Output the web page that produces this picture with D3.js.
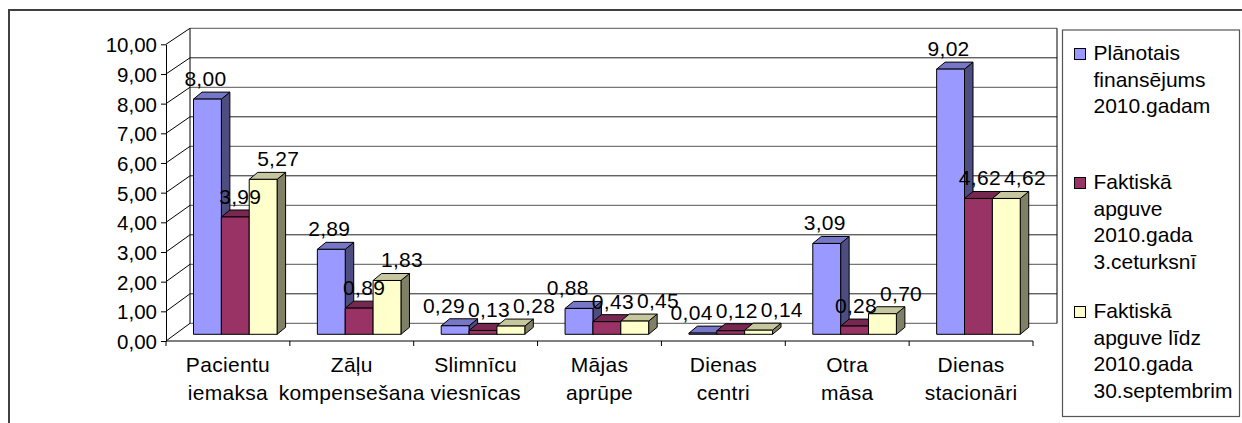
<!DOCTYPE html>
<html>
<head>
<meta charset="utf-8">
<script src="https://cdn.jsdelivr.net/npm/d3@7"></script>
<style>
  body { margin: 0; background: #fff; }
  svg text { font-family: "Liberation Sans", Arial, sans-serif; font-size: 21px; letter-spacing: 0.3px; fill: #000; }
  svg .tick text { font-size: 20.5px; letter-spacing: 0; }
  svg .legend text { letter-spacing: 0; }
</style>
</head>
<body>
<div id="chart"></div>
<script>
// 3D column chart, Excel style

var w = 1242, h = 423;

var categories = ['Pacientu iemaksa', 'Zāļu kompensešana', 'Slimnīcu viesnīcas', 'Mājas aprūpe',
                  'Dienas centri', 'Otra māsa', 'Dienas stacionāri'];
var planned = [8.00, 2.89, 0.29, 0.88, 0.04, 3.09, 9.02];
var actualQ3 = [3.99, 0.89, 0.13, 0.43, 0.12, 0.28, 4.62];
var actualToDate = [5.27, 1.83, 0.28, 0.45, 0.14, 0.70, 4.62];
var seriesNames = [
  ['Plānotais', 'finansējums', '2010.gadam'],
  ['Faktiskā', 'apguve', '2010.gada', '3.ceturksnī'],
  ['Faktiskā', 'apguve līdz', '2010.gada', '30.septembrim']
];
var yTicks = [0, 1, 2, 3, 4, 5, 6, 7, 8, 9, 10];

var series = [planned, actualQ3, actualToDate];
var colors = ['#9999ff', '#993366', '#ffffcc'];

var lv = d3.formatLocale({ decimal: ',', thousands: ' ', grouping: [3], currency: ['', ''] });
var fmt = lv.format('.2f');

var svg = d3.select('#chart').append('svg')
  .attr('width', w).attr('height', h);

// outer chart frame (runs off the right and bottom edges)
svg.append('rect')
  .attr('x', 9).attr('y', 10).attr('width', 1400).attr('height', 600)
  .attr('fill', 'none').attr('stroke', '#404040').attr('stroke-width', 2);

// scales: front plane, back wall, and the plane the bars sit in
var yFront = d3.scaleLinear().domain([0, 10]).range([341, 44.3]);
var yBack = d3.scaleLinear().domain([0, 10]).range([323.3, 28.3]);
var yBar = d3.scaleLinear().domain([0, 10]).range([334.3, 40.3]);
var x = d3.scaleBand().domain(categories).range([166, 1033]);
var depthX = 24; // floor depth
var barShift = 27.5;
var xs = d3.scaleBand().domain([0, 1, 2]).range([0, 83.6]);
var bdx = 8.5, bdy = -7; // bar depth

// back wall
var back = svg.append('g');
back.selectAll('line.grid')
  .data(yTicks)
  .enter().append('line')
    .attr('x1', x.range()[0] + depthX).attr('x2', x.range()[1] + depthX)
    .attr('y1', function(d) { return yBack(d); })
    .attr('y2', function(d) { return yBack(d); })
    .attr('stroke', function(d) { return d % 2 ? '#222' : '#555'; })
    .attr('stroke-width', 1);
back.append('line')
  .attr('x1', x.range()[0] + depthX).attr('x2', x.range()[0] + depthX)
  .attr('y1', yBack(0)).attr('y2', yBack(10)).attr('stroke', '#000');
back.append('line')
  .attr('x1', x.range()[1] + depthX).attr('x2', x.range()[1] + depthX)
  .attr('y1', yBack(0)).attr('y2', yBack(10)).attr('stroke', '#000');

// side wall diagonals
svg.append('g').selectAll('line')
  .data(yTicks)
  .enter().append('line')
    .attr('x1', x.range()[0]).attr('x2', x.range()[0] + depthX)
    .attr('y1', function(d) { return yFront(d); })
    .attr('y2', function(d) { return yBack(d); })
    .attr('stroke', '#000');

// y axis
var yAxis = svg.append('g')
  .attr('transform', 'translate(' + x.range()[0] + ',0)')
  .call(d3.axisLeft(yFront).tickValues(yTicks).tickFormat(fmt).tickSize(5).tickSizeOuter(0).tickPadding(4));
yAxis.select('.domain').attr('stroke', '#000');
yAxis.selectAll('text').attr('font-family', null).attr('font-size', null).attr('dy', '0.36em');

// x axis line and ticks between categories
svg.append('line')
  .attr('x1', x.range()[0]).attr('x2', x.range()[1])
  .attr('y1', yFront(0)).attr('y2', yFront(0)).attr('stroke', '#000');
svg.append('g').selectAll('line')
  .data(categories.map(function(c) { return x(c); }).concat([x.range()[1]]))
  .enter().append('line')
    .attr('x1', function(d) { return d; }).attr('x2', function(d) { return d; })
    .attr('y1', yFront(0)).attr('y2', yFront(0) + 5)
    .attr('stroke', '#000');

// category labels, two lines each
var cat = svg.append('g').selectAll('text')
  .data(categories)
  .enter().append('text')
    .attr('text-anchor', 'middle')
    .attr('transform', function(d) { return 'translate(' + (x(d) + x.bandwidth() / 2) + ',0)'; });
cat.selectAll('tspan')
  .data(function(d) { return d.split(' '); })
  .enter().append('tspan')
    .attr('x', 0)
    .attr('y', function(d, i) { return 371.5 + i * 28.5; })
    .text(function(d) { return d; });

// bars
function shade(c, k) { var r = d3.rgb(c); return d3.rgb(r.r * k, r.g * k, r.b * k).formatHex(); }

var barData = [];
categories.forEach(function(c, i) {
  series.forEach(function(s, j) {
    barData.push({ cat: c, s: j, v: s[i] });
  });
});

var bars = svg.append('g').selectAll('g')
  .data(barData)
  .enter().append('g')
    .attr('stroke', '#000').attr('stroke-width', 1).attr('stroke-linejoin', 'round');

bars.each(function(d) {
  var g = d3.select(this);
  var x0 = x(d.cat) + barShift + xs(d.s), x1 = x0 + xs.bandwidth();
  var y0 = yBar(0), y1 = yBar(d.v);
  // side face
  g.append('path')
    .attr('d', 'M' + [x1, y0] + 'L' + [x1, y1] + 'L' + [x1 + bdx, y1 + bdy] + 'L' + [x1 + bdx, y0 + bdy] + 'Z')
    .attr('fill', shade(colors[d.s], 0.5));
  // top face
  g.append('path')
    .attr('d', 'M' + [x0, y1] + 'L' + [x0 + bdx, y1 + bdy] + 'L' + [x1 + bdx, y1 + bdy] + 'L' + [x1, y1] + 'Z')
    .attr('fill', shade(colors[d.s], 0.78));
  // front face
  g.append('rect')
    .attr('x', x0).attr('y', y1).attr('width', x1 - x0).attr('height', y0 - y1)
    .attr('fill', colors[d.s]);
});

// value labels
var labelShift = [-2, 5, 15];
var labels = svg.append('g').selectAll('text')
  .data(barData)
  .enter().append('text')
    .attr('text-anchor', 'middle')
    .attr('y', function(d) { return yBar(d.v) + bdy - 6; })
    .text(function(d) { return fmt(d.v); })
    .each(function(d) {
      d.lx = x(d.cat) + barShift + xs(d.s) + xs.bandwidth() / 2 + labelShift[d.s];
      d.ly = yBar(d.v) + bdy - 6;
      d.lw = this.getComputedTextLength();
    });

// spread labels that collide inside a group
var gap = 3;
categories.forEach(function(c) {
  var items = barData.filter(function(d) { return d.cat === c; });
  var clusters = items.map(function(d) { return [d]; });
  function place(cl) {
    var total = d3.sum(cl, function(d) { return d.lw; }) + gap * (cl.length - 1);
    var left = d3.mean(cl, function(d) { return d.lx; }) - total / 2;
    return cl.map(function(d) { var p = left + d.lw / 2; left += d.lw + gap; return p; });
  }
  var merged = true;
  while (merged) {
    merged = false;
    for (var i = 0; i < clusters.length - 1; i++) {
      var a = clusters[i], b = clusters[i + 1];
      var pa = place(a), pb = place(b);
      var la = a[a.length - 1], fb = b[0];
      var aRight = pa[pa.length - 1] + la.lw / 2, bLeft = pb[0] - fb.lw / 2;
      if (aRight + gap > bLeft && Math.abs(la.ly - fb.ly) < 16) {
        clusters.splice(i, 2, a.concat(b));
        merged = true;
        break;
      }
    }
  }
  clusters.forEach(function(cl) {
    var p = place(cl);
    cl.forEach(function(d, k) { d.px = p[k]; });
  });
});
labels.attr('x', function(d) { return d.px; });

// legend
var legend = svg.append('g').attr('class', 'legend');
legend.append('rect')
  .attr('x', 1062.5).attr('y', 30).attr('width', 177).attr('height', 386.5)
  .attr('fill', '#fff').attr('stroke', '#555').attr('stroke-width', 1.2);
var item = legend.selectAll('g.item')
  .data(seriesNames)
  .enter().append('g')
    .attr('transform', function(d, i) { return 'translate(1074.5,' + (60 + i * 129) + ')'; });
item.append('rect')
  .attr('x', 0).attr('y', -11.5).attr('width', 11).attr('height', 11)
  .attr('fill', function(d, i) { return colors[i]; })
  .attr('stroke', '#000');
item.append('text')
  .selectAll('tspan')
  .data(function(d) { return d; })
  .enter().append('tspan')
    .attr('x', 19)
    .attr('y', function(d, i) { return i * 26.5; })
    .text(function(d) { return d; });
</script>
</body>
</html>
